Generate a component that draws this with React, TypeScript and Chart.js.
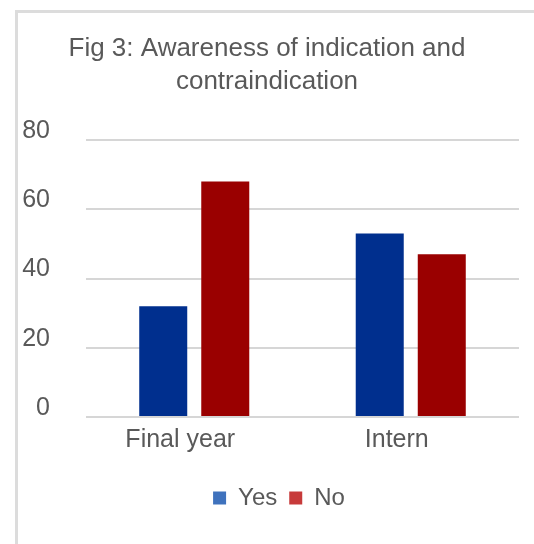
import React, { useEffect, useRef } from 'react';
import { Chart, registerables } from 'chart.js';

Chart.register(...registerables);

const categories = ['Final year', 'Intern'];
const seriesNames = ['Yes', 'No'];
const yesValues = [32, 53];
const noValues = [68, 47];
const yMin = 0;
const yMax = 80;
const yStep = 20;
const titleLines = ['Fig 3: Awareness of indication and', 'contraindication'];

const FONT = "'Liberation Sans', Arial, sans-serif";
const TEXT = '#595959';
const BAR_COLORS = ['#002F8E', '#9A0000'];
const LEGEND_COLORS = ['#3F72BD', '#C73A3A'];

const frame = {
  id: 'frame',
  beforeDraw(chart: any) {
    const ctx = chart.ctx;
    ctx.save();
    ctx.fillStyle = '#ffffff';
    ctx.fillRect(0, 0, chart.width, chart.height);
    ctx.strokeStyle = '#dcdcdc';
    ctx.lineWidth = 3;
    ctx.beginPath();
    ctx.moveTo(16.5, chart.height);
    ctx.lineTo(16.5, 11.5);
    ctx.lineTo(chart.width, 11.5);
    ctx.stroke();
    ctx.restore();
  },
};

const legendShift = {
  id: 'legendShift',
  afterLayout(chart: any) {
    if (chart.legend) {
      chart.legend.left += 12;
      chart.legend.right += 12;
    }
  },
};

export default function App() {
  const ref = useRef<HTMLCanvasElement | null>(null);

  useEffect(() => {
    document.body.style.margin = '0';
    const canvas = ref.current;
    if (!canvas) return;
    const chart = new Chart(canvas, {
      type: 'bar',
      data: {
        labels: categories,
        datasets: [
          { label: seriesNames[0], data: yesValues, backgroundColor: BAR_COLORS[0] },
          { label: seriesNames[1], data: noValues, backgroundColor: BAR_COLORS[1] },
        ],
      },
      options: {
        responsive: false,
        animation: false,
        devicePixelRatio: 1,
        categoryPercentage: 0.573,
        barPercentage: 0.774,
        layout: { padding: { left: 15, right: 15, top: 22, bottom: 24 } },
        plugins: {
          tooltip: { enabled: false },
          title: {
            display: true,
            text: titleLines,
            color: TEXT,
            font: { family: FONT, size: 26, weight: 'normal', lineHeight: 1.27 },
            padding: { top: 10, bottom: 42 },
          },
          legend: {
            position: 'bottom',
            labels: {
              boxWidth: 13,
              boxHeight: 13,
              padding: 12,
              color: TEXT,
              font: { family: FONT, size: 24 },
              generateLabels: (c: any) =>
                c.data.datasets.map((d: any, i: number) => ({
                  text: d.label,
                  fillStyle: LEGEND_COLORS[i],
                  strokeStyle: LEGEND_COLORS[i],
                  lineWidth: 0,
                  fontColor: TEXT,
                  datasetIndex: i,
                  hidden: false,
                })),
            },
          },
        },
        scales: {
          x: {
            grid: { display: false, drawTicks: false },
            border: { display: false },
            ticks: { color: TEXT, font: { family: FONT, size: 25 }, padding: 8, labelOffset: -14 },
            afterFit: (s: any) => {
              s.height += 11;
            },
          },
          y: {
            min: yMin,
            max: yMax,
            ticks: { stepSize: yStep, color: TEXT, font: { family: FONT, size: 25 }, padding: 36, labelOffset: -9 },
            grid: { color: '#d6d6d6', lineWidth: 2, drawTicks: false },
            border: { display: false },
            afterFit: (s: any) => {
              s.width = 71;
            },
          },
        },
      },
      plugins: [frame, legendShift],
    });
    return () => chart.destroy();
  }, []);

  return (
    <div style={{ width: 534, height: 544 }}>
      <canvas ref={ref} width={534} height={544} style={{ display: 'block', width: 534, height: 544 }} />
    </div>
  );
}
